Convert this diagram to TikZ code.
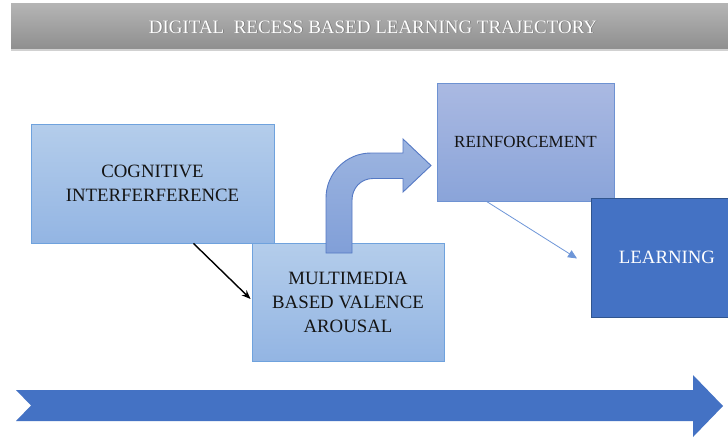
\documentclass[tikz,border=0pt]{standalone}
\usepackage{fontspec}
\setmainfont{Liberation Serif}
\usetikzlibrary{arrows.meta,calc}

\definecolor{boxtop}{HTML}{B4CDEB}
\definecolor{boxbot}{HTML}{93B5E3}
\definecolor{boxedge}{HTML}{6FA2DD}
\definecolor{reintop}{HTML}{AAB9E2}
\definecolor{reinbot}{HTML}{8AA4D9}
\definecolor{reinedge}{HTML}{6E92D2}
\definecolor{bendtop}{HTML}{9DB5E0}
\definecolor{bendbot}{HTML}{819FD8}
\definecolor{bendedge}{HTML}{5579C4}
\definecolor{deepblue}{HTML}{4472C4}
\definecolor{deepedge}{HTML}{30558F}
\definecolor{thinblue}{HTML}{6E96D8}

\tikzset{
  label text/.style={font=\fontsize{18.8}{24}\selectfont, align=center, text=black!92},
  lightbox/.style={rectangle, draw=boxedge, line width=0.9pt, top color=boxtop, bottom color=boxbot, label text},
  reinbox/.style={rectangle, draw=reinedge, line width=0.9pt, top color=reintop, bottom color=reinbot, label text, font=\fontsize{17}{24}\selectfont},
  darkbox/.style={rectangle, draw=deepedge, line width=0.9pt, fill=deepblue, label text, text=white},
}

\begin{document}
\begin{tikzpicture}[x=1pt,y=-1pt]
\clip (0,0) rectangle (728,437);
\fill[white] (0,0) rectangle (728,437);

% title band
\shade[top color=black!29, bottom color=black!44] (11,3) rectangle (728,49);
\draw[black!18, line width=1.2pt] (11,50) -- (728,50);
\node[font=\fontsize{19}{22}\selectfont, text=black!55] (titleshadow) at (373.7,27.7) {DIGITAL\ \ RECESS BASED LEARNING TRAJECTORY};
\node[font=\fontsize{19}{22}\selectfont, text=white] (title) at (373,27) {DIGITAL\ \ RECESS BASED LEARNING TRAJECTORY};

% left column of steps
\node[lightbox, minimum width=243pt, minimum height=119pt] (cog) at (152.5,183.5) {COGNITIVE\\INTERFERFERENCE};
\node[lightbox, minimum width=192pt, minimum height=118pt] (mm) at (348,302) {MULTIMEDIA\\BASED VALENCE\\AROUSAL};

% bent arrow rising out of the multimedia box
\draw[bendedge, line width=0.9pt, top color=bendtop, bottom color=bendbot]
  (326,253) -- (326,198)
  .. controls (326,173.2) and (346.2,153) .. (371,153)
  -- (403,153) -- (403,139) -- (431,165.5) -- (403,192) -- (403,178.5)
  -- (373,178.5)
  .. controls (361,178.5) and (352,188) .. (352,200)
  -- (352,253) -- cycle;

% right column of steps
\node[reinbox, minimum width=177pt, minimum height=118pt] (rein) at (525.5,142) {REINFORCEMENT};
\node[darkbox, minimum width=152pt, minimum height=119pt] (learn) at (667,257.5) {LEARNING};

% connectors
\coordinate (cogout) at ($(cog.south)+(41,0)$);
\coordinate (mmin) at ($(mm.west)+(-1,-3)$);
\draw[black, line width=1.4pt, -{Stealth[length=9pt,width=7pt]}] (cogout) -- (mmin);

\coordinate (reinout) at ($(rein.south west)+(50,0)$);
\coordinate (learnin) at (577,258.5);
\draw[thinblue, line width=0.8pt, -{Triangle[length=9pt,width=8pt]}] (reinout) -- (learnin);

% timeline arrow along the bottom
\fill[deepblue] (16,390) -- (693,390) -- (693,375) -- (723,406) -- (693,437)
  -- (693,421) -- (16,421) -- (31,405.5) -- cycle;
\end{tikzpicture}
\end{document}
